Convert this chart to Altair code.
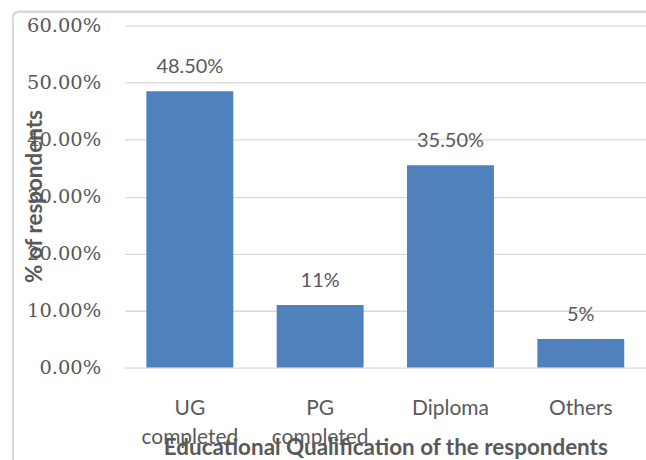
import altair as alt
import pandas as pd

categories = ["UG|completed", "PG|completed", "Diploma", "Others"]
values = [0.485, 0.11, 0.355, 0.05]
value_labels = ["48.50%", "11%", "35.50%", "5%"]
y_ticks = [0, 0.1, 0.2, 0.3, 0.4, 0.5, 0.6]

df = pd.DataFrame({"cat": categories, "val": values, "lab": value_labels})

GREY = "#595959"

x_enc = alt.X(
    "cat:N",
    sort=categories,
    scale=alt.Scale(paddingInner=0.333, paddingOuter=0.167),
    axis=alt.Axis(
        title="Educational Qualification  of the respondents",
        labelExpr="split(datum.value, '|')",
        labelAngle=0,
        labelFont="Lato",
        labelFontSize=21,
        labelColor=GREY,
        labelLineHeight=29,
        labelPadding=30,
        labelBaseline="top",
        ticks=False,
        domain=False,
        grid=False,
        titleFont="Lato",
        titleFontSize=22.5,
        titleFontWeight="bold",
        titleColor=GREY,
        titleY=80,
        titleBaseline="middle",
    ),
)

y_enc = alt.Y(
    "val:Q",
    scale=alt.Scale(domain=[0, 0.6], nice=False),
    axis=alt.Axis(
        title="% of respondents",
        values=y_ticks,
        format=".2%",
        labelFont="DejaVu Serif",
        labelFontSize=19.5,
        labelColor=GREY,
        labelPadding=24,
        ticks=False,
        domain=False,
        grid=True,
        gridColor="#d9d9d9",
        gridWidth=1.3,
        titleFont="Lato",
        titleFontSize=22.5,
        titleFontWeight="bold",
        titleColor=GREY,
        titleX=-90,
        titleY=171,
        titleAngle=270,
        titleBaseline="middle",
        titleAlign="center",
    ),
)

border = alt.Chart(df).mark_rect(
    fill=None, stroke="#d9d9d9", strokeWidth=2, cornerRadius=6, clip=False
).encode(
    x=alt.value(-112), x2=alt.value(540), y=alt.value(-14), y2=alt.value(460)
)

bars = alt.Chart(df).mark_bar(color="#4F81BD").encode(x=x_enc, y=y_enc)

texts = alt.Chart(df).mark_text(
    font="Lato", fontSize=20, color=GREY, baseline="bottom", dy=-14
).encode(x=alt.X("cat:N", sort=categories), y="val:Q", text="lab:N")

chart = (
    alt.layer(border, bars, texts)
    .properties(
        width=523,
        height=343,
        autosize=alt.AutoSizeParams(type="none"),
        padding={"left": 125, "top": 25, "right": 0, "bottom": 92},
        background="white",
    )
    .configure_view(stroke=None)
)

chart.save("out.html", embed_options={"renderer": "svg", "actions": False})
